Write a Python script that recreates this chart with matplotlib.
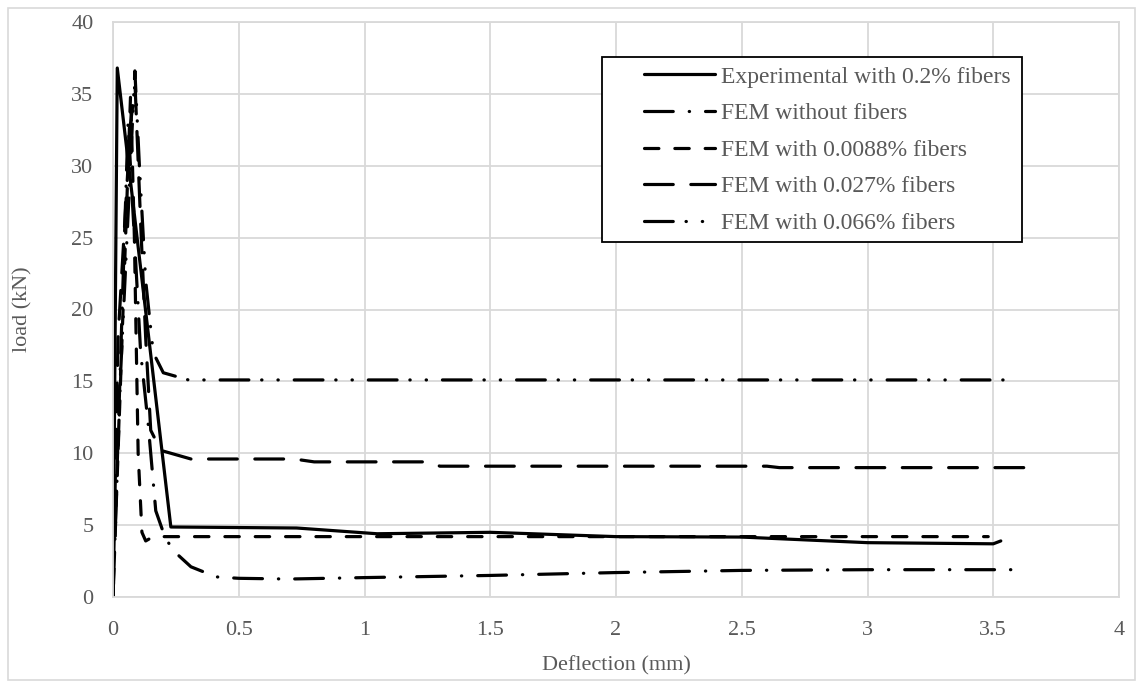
import matplotlib
matplotlib.use("Agg")
import matplotlib.pyplot as plt
from matplotlib.patches import Rectangle

plt.rcParams['font.family'] = ['Liberation Serif', 'DejaVu Serif']

# data (deflection in mm, load in kN)
exp_x = [0, 0.017, 0.23, 0.73, 1.05, 1.5, 2.0, 2.5, 3.0, 3.5, 3.53]
exp_y = [0, 36.8, 4.87, 4.8, 4.4, 4.5, 4.2, 4.17, 3.78, 3.7, 3.9]

nofib_x = [0, 0.06, 0.11, 0.14, 0.17, 0.21, 0.26, 0.31, 0.41, 0.5, 0.7, 1.0, 1.5, 2.0, 2.5, 3.0, 3.6]
nofib_y = [0, 33.0, 17.0, 12.0, 6.0, 4.0, 2.9, 2.1, 1.4, 1.3, 1.25, 1.35, 1.5, 1.7, 1.85, 1.9, 1.9]

f0088_x = [0, 0.07, 0.085, 0.1, 0.115, 0.13, 0.16, 1.25, 2.5, 3.48]
f0088_y = [0, 35.0, 25.0, 10.0, 4.5, 3.9, 4.2, 4.2, 4.2, 4.2]

f027_x = [0, 0.02, 0.07, 0.088, 0.11, 0.13, 0.15, 0.19, 0.31, 0.72, 0.8, 1.25, 1.3, 2.6, 2.65, 3.66]
f027_y = [0, 18.0, 33.0, 35.5, 26.0, 18.0, 11.6, 10.2, 9.6, 9.6, 9.4, 9.4, 9.1, 9.1, 9.0, 9.0]

f066_x = [0, 0.03, 0.087, 0.105, 0.13, 0.16, 0.2, 0.3, 1.0, 2.0, 3.0, 3.58]
f066_y = [0, 15.5, 36.6, 30.0, 22.0, 17.0, 15.6, 15.1, 15.1, 15.1, 15.1, 15.1]

labels = ["Experimental with 0.2% fibers", "FEM without fibers", "FEM with 0.0088% fibers",
          "FEM with 0.027% fibers", "FEM with 0.066% fibers"]

grey = '#595959'
grid_c = '#d9d9d9'
W, H = 1143, 688

fig = plt.figure(figsize=(11.43, 6.88), dpi=100)
ax = fig.add_axes([113 / W, 91 / H, 1006 / W, 575 / H])

# thin outer frame of the chart area
fig.patches.append(Rectangle((8 / W, 8 / H), 1127 / W, 672 / H, transform=fig.transFigure,
                             fill=False, edgecolor=grid_c, linewidth=1.2))

lw = 2.3
kw = dict(color='black', linewidth=lw, dash_capstyle='round', solid_capstyle='round')
ax.plot(exp_x, exp_y, linestyle='-', label=labels[0], **kw)
ax.plot(nofib_x, nofib_y, linestyle=(0, (9, 5, 0.1, 5)), label=labels[1], **kw)
ax.plot(f0088_x, f0088_y, linestyle=(0, (4.5, 5)), label=labels[2], **kw)
ax.plot(f027_x, f027_y, linestyle=(0, (9, 5.5)), label=labels[3], **kw)
ax.plot(f066_x, f066_y, linestyle=(0, (9, 4, 0.1, 5, 0.1, 5)), label=labels[4], **kw)

ax.set_xlim(0, 4)
ax.set_ylim(0, 40)
ax.set_xticks([0, 0.5, 1, 1.5, 2, 2.5, 3, 3.5, 4])
ax.set_xticklabels(['0', '0.5', '1', '1.5', '2', '2.5', '3', '3.5', '4'])
ax.set_yticks(range(0, 41, 5))
ax.grid(True, color=grid_c, linewidth=1.3)
ax.set_axisbelow(True)
for s in ax.spines.values():
    s.set_color(grid_c)
    s.set_linewidth(1.3)
ax.tick_params(length=0, labelsize=16, labelcolor=grey)
ax.tick_params(axis='x', pad=17)
ax.tick_params(axis='y', pad=14)

ax.set_xlabel("Deflection (mm)", fontsize=16, color=grey, labelpad=12)
ax.set_ylabel("load (kN)", fontsize=16, color=grey, labelpad=28)

# legend: frame drawn separately so the wide left margin matches
leg = ax.legend(loc='upper left', bbox_to_anchor=((644 - 113) / 1006, (597 - 66) / 575),
                fontsize=17, frameon=False, handlelength=3.0, handletextpad=0.25,
                labelspacing=0.64, borderpad=0, borderaxespad=0)
for t in leg.get_texts():
    t.set_color(grey)
ax.add_patch(Rectangle(((602 - 113) / 1006, (597 - 242) / 575), 420 / 1006, 185 / 575,
                       transform=ax.transAxes, facecolor='white', edgecolor='black',
                       linewidth=1.3, zorder=4))
leg.set_zorder(5)

fig.savefig("out.png", dpi=100)
